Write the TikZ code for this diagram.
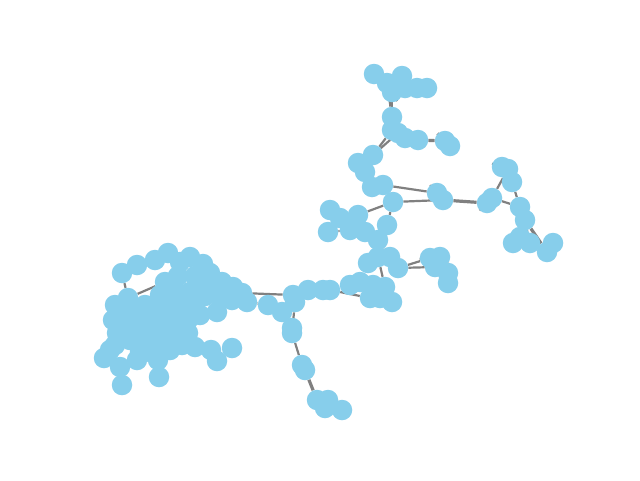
\documentclass[tikz,border=0pt]{standalone}
\usetikzlibrary{backgrounds}
\definecolor{nodeblue}{HTML}{87CEEB}
\definecolor{edgegray}{HTML}{808080}
\begin{document}
\begin{tikzpicture}[x=1pt,y=-1pt,
 nd/.style={circle,fill=nodeblue,minimum size=20.5pt,inner sep=0pt,draw=none},
 ed/.style={draw=edgegray,line width=2.2pt},
 edthick/.style={draw=edgegray,line width=3.2pt}]
\useasboundingbox (0,0) rectangle (640,480);
% left dense cluster
\foreach \p [count=\i] in {(122,273),(137,265),(155,260),(168,253),(180,262),(190,257),(203,264),(210,273),(195,276),(178,276),
 (165,282),(222,282),(233,287),(242,293),(247,302),(232,300),(217,312),(200,315),(115,305),(113,320),
 (117,333),(115,345),(128,298),(130,312),(130,326),(130,340),(145,305),(145,318),(145,332),(145,345),
 (160,295),(160,310),(160,323),(160,337),(175,290),(175,303),(175,316),(175,330),(190,292),(190,305),
 (188,320),(188,333),(205,296),(210,287),(104,358),(120,367),(137,360),(122,385),(158,360),(159,377),
 (170,350),(182,345),(195,347),(211,350),(217,361),(232,348),(200,280),(220,296),(110,350),(150,352),
 (165,345),(140,352)}
 \node[nd] (L\i) at \p {};
% middle
\foreach \p [count=\i] in {(268,305),(282,312),(293,295),(295,302),(308,290),(323,290),(330,290),(292,328),(292,333),(302,365),
 (305,370),(317,400),(328,400),(325,408),(342,410),(350,285),(360,282),(373,285),(385,287),(370,298),
 (380,298),(392,302),(368,263),(378,257),(390,257),(398,268),(378,240),(430,258),(440,257),(435,267),
 (448,273),(448,283),(387,225)}
 \node[nd] (m\i) at \p {};
% upper
\foreach \p [count=\i] in {(330,210),(328,232),(340,218),(350,230),(358,215),(365,232),(393,202),(383,185),(372,187),(365,172),
 (358,163),(373,155),(392,130),(392,117),(405,138),(418,140),(445,141),(450,146),(392,92),(387,83),
 (374,74),(402,76),(405,88),(417,88),(427,88),(437,193),(443,200),(398,133)}
 \node[nd] (u\i) at \p {};
% right
\foreach \p [count=\i] in {(487,203),(492,198),(502,167),(508,169),(512,182),(520,207),(525,220),(520,237),(513,243),(530,243),
 (547,252),(553,243)}
 \node[nd] (r\i) at \p {};
\begin{scope}[on background layer]
 % cluster internals
 \draw[ed] (L1) -- (L23);
 \draw[ed] (L11) -- (L23);
 \draw[ed] (L44) -- (L40);
 \draw[ed] (L39) -- (L12);
 \draw[ed] (L14) -- (m3);
 \draw[ed] (L15) -- (m1);
 % middle chain
 \draw[ed] (m1) -- (m2);
 \draw[ed] (m2) -- (m4);
 \draw[ed] (m3) -- (m5);
 \draw[ed] (m5) -- (m6) -- (m7);
 \draw[ed] (m4) -- (m9);
 \draw[ed] (m9) -- (m10);
 \draw[edthick] (m11) -- (m12);
 \draw[ed] (m12) -- (m13) -- (m15);
 \draw[ed] (m12) -- (m14);
 \draw[ed] (m7) -- (m20);
 \draw[ed] (m16) -- (m17) -- (m18);
 \draw[ed] (m18) -- (m19) -- (m22);
 \draw[ed] (m20) -- (m21);
 \draw[ed] (m19) -- (m24);
 \draw[ed] (m23) -- (m24) -- (m25);
 \draw[ed] (m25) -- (m27);
 \draw[ed] (m26) -- (m28);
 \draw[ed] (m26) -- (m30);
 \draw[ed] (m28) -- (m29) -- (m31) -- (m32);
 \draw[ed] (m27) -- (m33);
 % upper
 \draw[ed] (m33) -- (u7);
 \draw[ed] (u5) -- (u7);
 \draw[ed] (u1) -- (u3) -- (u5);
 \draw[ed] (u2) -- (u4) -- (u6);
 \draw[ed] (u6) -- (m27);
 \draw[ed] (u7) -- (u8) -- (u9) -- (u10);
 \draw[ed] (u10) -- (u11) -- (u12);
 \draw[ed] (u12) -- (u13);
 \draw[ed] (u12) -- (u28);
 \draw[ed] (u13) -- (u14) -- (u19);
 \draw[ed] (u14) -- (u20);
 \draw[ed] (u19) -- (u20) -- (u21);
 \draw[ed] (u20) -- (u22);
 \draw[ed] (u19) -- (u23) -- (u24) -- (u25);
 \draw[ed] (u13) -- (u15) -- (u16);
 \draw[edthick] (u16) -- (u17) -- (u18);
 \draw[ed] (u8) -- (u26);
 \draw[ed] (u7) -- (u27);
 \draw[ed] (u26) -- (u27);
 % right
 \draw[edthick] (u27) -- (r1);
 \draw[ed] (r1) -- (r2);
 \draw[ed] (r2) -- (r4);
 \draw[ed] (r3) -- (r4) -- (r5);
 \draw[ed] (r5) -- (r6);
 \draw[ed] (r2) -- (r6);
 \draw[ed] (r6) -- (r7) -- (r8);
 \draw[ed] (r8) -- (r9);
 \draw[ed] (r8) -- (r10);
 \draw[edthick] (r7) -- (r11);
 \draw[ed] (r11) -- (r12);
\end{scope}
\end{tikzpicture}
\end{document}
